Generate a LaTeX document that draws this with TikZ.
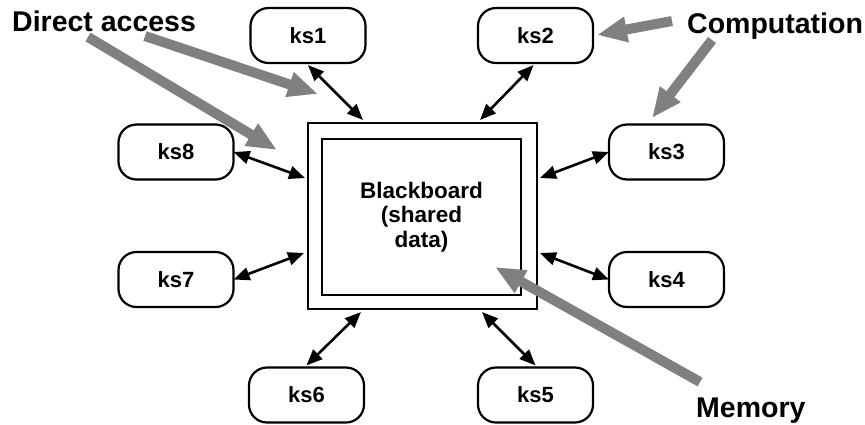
\documentclass[tikz,border=0pt]{standalone}
\usepackage{fontspec}
\setmainfont{Liberation Sans}
\usetikzlibrary{arrows.meta}
\definecolor{hintgray}{RGB}{128,128,128}
\begin{document}
\begin{tikzpicture}[x=1pt,y=-1pt,
  ksbox/.style={draw,line width=2.2pt,rounded corners=18pt,minimum width=115pt,minimum height=55pt,inner sep=0pt,font=\fontsize{22}{24}\selectfont\bfseries},
  link/.style={line width=2.6pt,{Triangle[length=16pt,width=13pt]}-{Triangle[length=16pt,width=13pt]}},
  hint/.style={draw=hintgray,line width=10pt,-{Triangle[length=30pt,width=24pt]}},
  lbl/.style={anchor=base west,inner sep=0pt,font=\fontsize{28.5}{30}\selectfont\bfseries}]
\useasboundingbox (0,0) rectangle (865,424);
% blackboard
\node[draw,line width=2.6pt,minimum width=229pt,minimum height=186pt,inner sep=0pt] (bb) at (422.5,216) {};
\node[draw,line width=2.6pt,minimum width=199pt,minimum height=156pt,inner sep=0pt,align=center,font=\fontsize{22.5}{24.5}\selectfont\bfseries] (bbin) at (421.5,217) {Blackboard\\(shared\\data)};
% knowledge sources
\node[ksbox] (ks1) at (308,35.5) {ks1};
\node[ksbox] (ks2) at (535.5,35.5) {ks2};
\node[ksbox] (ks3) at (666.5,152) {ks3};
\node[ksbox] (ks4) at (666.5,279.5) {ks4};
\node[ksbox] (ks5) at (535.5,395) {ks5};
\node[ksbox] (ks6) at (306.5,395) {ks6};
\node[ksbox] (ks7) at (176,279.5) {ks7};
\node[ksbox] (ks8) at (176,152) {ks8};
% box end points
\coordinate (e1) at (363,120);
\coordinate (e2) at (480,120);
\coordinate (e3) at (540,178);
\coordinate (e4) at (540,253);
\coordinate (e5) at (482,312);
\coordinate (e6) at (361,312);
\coordinate (e7) at (304,253);
\coordinate (e8) at (305,178);
\draw[link] ([yshift=-1pt]ks1.south) -- (e1);
\draw[link] ([xshift=-2pt,yshift=-1pt]ks2.south) -- (e2);
\draw[link] ([xshift=1pt]ks3.west) -- (e3);
\draw[link] ([xshift=1pt]ks4.west) -- (e4);
\draw[link] ([yshift=1pt]ks5.north) -- (e5);
\draw[link] ([yshift=1pt]ks6.north) -- (e6);
\draw[link] ([xshift=-1pt]ks7.east) -- (e7);
\draw[link] ([xshift=-1pt]ks8.east) -- (e8);
% labels
\node[lbl] (da) at (12,31) {Direct access};
\node[lbl] (comp) at (687,33) {Computation};
\node[lbl] (mem) at (696,417) {Memory};
% gray pointers
\coordinate (d1s) at (145,36);
\coordinate (d1t) at (318,94);
\coordinate (d2s) at (88,37);
\coordinate (d2t) at (277,150);
\coordinate (c1s) at (672,21);
\coordinate (c1t) at (597,35);
\coordinate (c2s) at (712,40);
\coordinate (c2t) at (652,118);
\coordinate (ms) at (700,382);
\coordinate (mt) at (495,267);
\draw[hint] (d1s) -- (d1t);
\draw[hint] (d2s) -- (d2t);
\draw[hint] (c1s) -- (c1t);
\draw[hint] (c2s) -- (c2t);
\draw[hint] (ms) -- (mt);
\end{tikzpicture}
\end{document}
